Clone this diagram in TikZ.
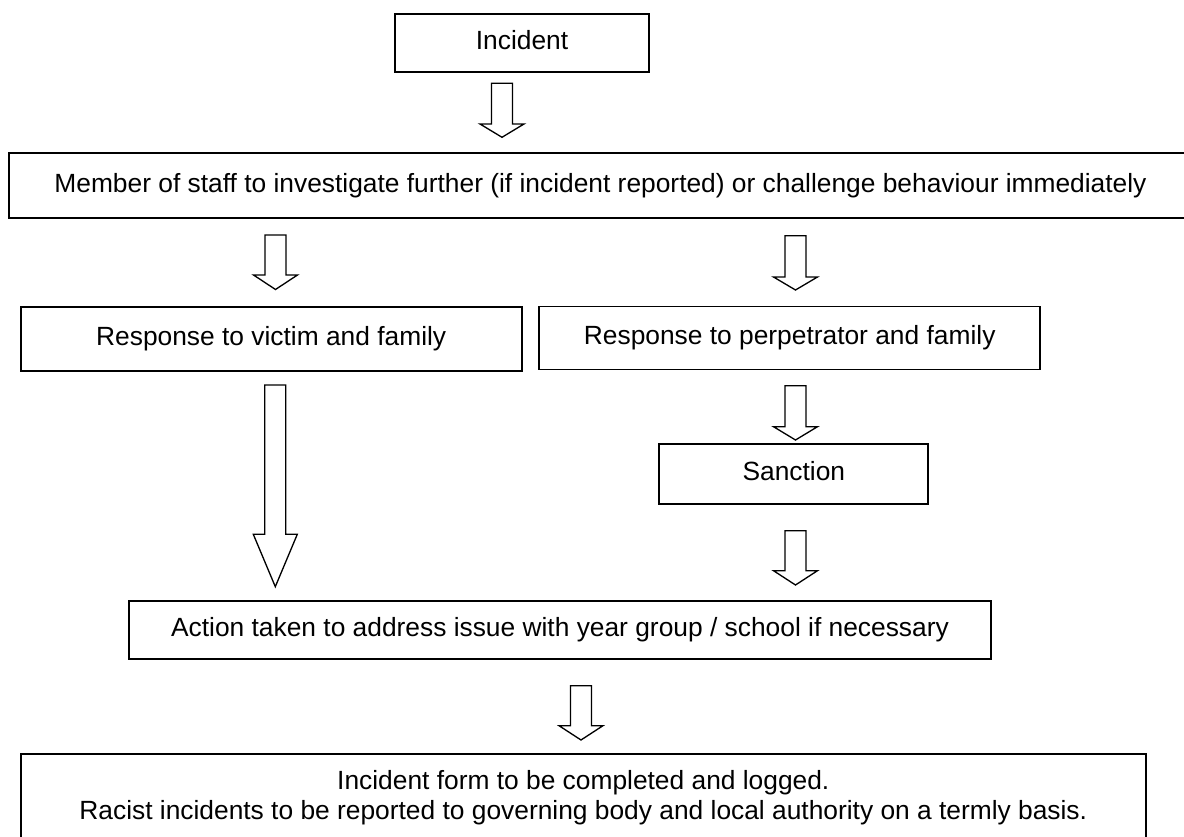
\documentclass[tikz,border=0pt]{standalone}
\usepackage{fontspec}
\setmainfont{Liberation Sans}
\newcommand{\pxl}{0.4554pt}
\tikzset{
	framebox/.style={draw, line width=0.9pt, inner sep=0pt, font=\fontsize{12}{13.5}\selectfont},
	stepbox/.style={framebox, text height=9pt, text depth=3pt},
	blockarrow/.style={draw, line width=0.6pt, line join=miter},
}
\begin{document}
\begin{tikzpicture}[x=\pxl, y=-\pxl]
		\useasboundingbox (0,0) rectangle (1184,837);
		% boxes
		\node[stepbox, minimum width=254.6*\pxl, minimum height=57.7*\pxl] (incident) at (522,42.9) {Incident};
		\node[stepbox, minimum width=1182.4*\pxl, minimum height=65.3*\pxl] (staff) at (600.5,185.6) {Member of staff to investigate further (if incident reported) or challenge behaviour immediately};
		\node[stepbox, minimum width=501*\pxl, minimum height=64.5*\pxl] (victim) at (271.2,338.8) {Response to victim and family};
		\node[stepbox, minimum width=500.6*\pxl, minimum height=63*\pxl] (perp) at (789.7,338) {Response to perpetrator and family};
		\node[stepbox, minimum width=269*\pxl, minimum height=60*\pxl] (sanction) at (793.8,474.3) {Sanction};
		\node[stepbox, minimum width=861.4*\pxl, minimum height=58.3*\pxl] (action) at (560,630.2) {Action taken to address issue with year group / school if necessary};
		\node[framebox, align=center, minimum width=1125.3*\pxl, minimum height=87.4*\pxl] (report) at (583.3,798) {Incident form to be completed and logged.\\Racist incidents to be reported to governing body and local authority on a termly basis.};
		
		% hollow arrows: x / top / tip / head length
		\foreach \xa/\ya/\yb/\hl in {502/83.3/137.3/13.3, 275.5/235/289.5/14.5, 795.5/235.7/290/13, 275.3/385/586.7/52.4, 795.5/385.7/440/13.3, 795.5/530.7/585/14.3, 581/685.7/740/14.3}
		{
			\draw[blockarrow] (\xa-10.5,\ya) -- (\xa+10.5,\ya) -- (\xa+10.5,\yb-\hl) -- (\xa+22,\yb-\hl) -- (\xa,\yb) -- (\xa-22,\yb-\hl) -- (\xa-10.5,\yb-\hl) -- cycle;
		}
\end{tikzpicture}
\end{document}
